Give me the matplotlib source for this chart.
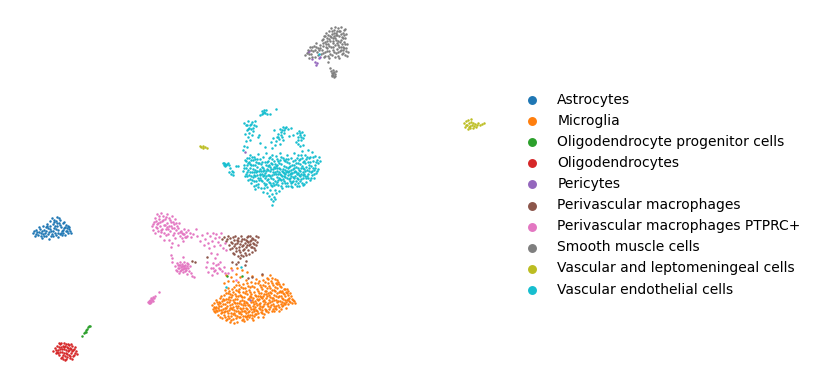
import numpy as np
import matplotlib
matplotlib.use("Agg")
import matplotlib.pyplot as plt

# embedding coordinates (x, y), cluster by cluster
astrocytes = [(33,233),(36,230),(38,235),(35,236),(40,229),(41,233),(43,226),(44,236),(46,231),(47,224),(48,228),(48,234),
	(50,221),(50,226),(51,231),(52,218),(53,224),(53,236),(54,228),(55,233),(56,221),(57,226),(57,217),(58,230),(59,223),
	(60,234),(60,220),(61,227),(62,231),(63,223),(64,228),(65,235),(66,225),(66,231),(67,228),(68,233),(69,229),(70,231),
	(71,233),(42,238),(45,233),(49,239),(52,234),(58,237),(62,235),(37,232),(39,227),(46,227),(55,226),(59,218),(63,233),
	(68,226),(54,222),(49,232),(44,230),(34,231),(41,236),(56,235),
	(36.5,233.5),(39.5,232),(42.5,230.5),(43.5,233.5),(46.5,235.5),(47.5,226),(50.5,229),(51.5,235.5),(53.5,231),(54.5,219.5),
	(56.5,229),(57.5,222.5),(58.5,232.5),(60.5,225),(61.5,233),(63.5,230),(64.5,221.5),(65.5,227),(67.5,231),(69.5,226.5)]

microglia = [(212,305),(213,309),(214,303),(215,312),(216,300),(216,307),(218,315),(218,304),(219,310),(220,298),(221,313),
	(221,306),(222,318),(222,301),(223,309),(224,295),(224,315),(225,304),(226,320),(226,299),(227,311),(227,306),(228,293),
	(228,316),(229,302),(230,322),(230,308),(231,297),(231,313),(232,289),(232,304),(233,319),(233,300),(234,310),(235,294),
	(235,315),(236,306),(236,285),(237,322),(237,299),(238,311),(238,291),(239,303),(239,317),(240,295),(240,308),(241,287),
	(241,314),(242,300),(242,320),(243,305),(243,292),(244,311),(244,297),(245,316),(245,288),(246,302),(246,308),(247,294),
	(247,319),(248,312),(248,299),(249,305),(249,290),(250,315),(250,296),(251,309),(251,302),(252,286),(252,312),(253,298),
	(253,306),(254,292),(254,316),(255,301),(255,283),(256,310),(256,296),(257,305),(257,289),(258,313),(258,300),(259,293),
	(259,308),(260,285),(260,303),(261,312),(261,297),(262,289),(262,307),(263,280),(263,301),(264,294),(264,314),(265,286),
	(265,309),(266,298),(266,291),(267,278),(267,304),(268,312),(268,283),(269,295),(269,300),(270,288),(270,307),(271,281),
	(271,293),(272,311),(272,298),(273,285),(273,304),(274,290),(274,295),(275,279),(275,308),(276,283),(276,300),(277,293),
	(277,288),(278,305),(278,297),(279,284),(279,311),(280,291),(280,301),(281,296),(281,287),(282,306),(283,293),(283,299),
	(284,289),(284,303),(285,296),(286,308),(286,292),(287,300),(288,295),(288,304),(289,298),(290,302),(291,296),(292,303),
	(293,300),(295,303),(214,311),(217,302),(220,317),(223,304),(225,311),(228,299),(229,318),(232,309),(234,302),(236,318),
	(238,296),(240,301),(243,316),(246,313),(248,305),(250,292),(252,318),(254,304),(256,314),(258,296),(260,309),(263,306),
	(265,291),(268,306),(270,297),(272,290),(274,300),(276,306),(279,292),(282,302),(285,300),(236,290),(233,292),(241,296),
	(245,293),(239,289),(248,286),(230,294),(226,293),(225,308),(219,302),(227,302),(234,323),(242,311),(244,321),(249,311),
	(254,311),(259,304),(262,298),(266,311),(270,302),(273,309),(277,302),(281,309),(283,284),(288,291),(238,282),(233,281),
	(243,284),(228,288),(224,283),(240,277),(246,280),(251,282),(256,279),(231,277),(236,274),(228,281),(226,275),(242,270),
	(231,268),(237,268),(252,276),(247,272),(270,275),(262,275),(258,283),(229,310),(237,308),(247,309),(251,297),(255,307),
	(261,293),(267,288),(275,287),(278,282),(264,300),(268,293),(223,299),(221,310),(215,308),(217,311),(231,316),(235,299),
	(240,317),(247,316),(253,320),(258,317),(263,317),(249,317),(243,308),
	(214.5,306.5),(216.5,310),(219.5,306),(220.5,302.5),(222.5,312),(224.5,300),(225.5,316.5),(226.5,307.5),(228.5,312.5),(229.5,297),
	(230.5,304.5),(231.5,319.5),(232.5,294.5),(233.5,307),(234.5,313),(235.5,302.5),(236.5,295.5),(237.5,316),(238.5,305.5),(239.5,292),
	(240.5,312),(241.5,303.5),(242.5,296.5),(243.5,319),(244.5,301),(245.5,310.5),(246.5,290.5),(247.5,303),(248.5,315),(249.5,297.5),
	(250.5,306.5),(251.5,293.5),(252.5,314.5),(253.5,302),(254.5,309),(255.5,295),(256.5,303),(257.5,311),(258.5,291),(259.5,299),
	(260.5,306),(261.5,287),(262.5,313),(263.5,295.5),(264.5,304),(265.5,282),(266.5,310),(267.5,296),(268.5,302.5),(269.5,286),
	(270.5,292),(271.5,305),(272.5,283),(273.5,298),(274.5,311),(275.5,291),(276.5,296),(277.5,284),(278.5,301),(279.5,307),
	(280.5,286),(281.5,292),(282.5,298),(283.5,305),(284.5,294),(285.5,289),(286.5,302),(287.5,293),(289.5,301),(290.5,293),
	(292.5,299),(294,301),(221,296),(225,290),(229,291),(234,287),(239,285),(243,288),(247,283),(250,287),(254,287),(259,281),
	(263,285),(268,279),(272,278),(277,280),(282,291),(287,289),(230,300),(237,303),(244,303),(252,300),(260,296),(266,294),
	(272,301),(279,296),(285,304),(218,308),(224,312),(231,308),(239,313),(246,317),(255,314),(262,310),(269,309),(276,309),
	(233,314),(241,309),(227,319),(236,311),(245,305),(253,309),(257,299),(265,302),(274,306),(281,304),(288,299)]

opc = [(82,336),(84,333),(85,332),(86,330),(87,329),(88,327),(89,326),(90,326),(86,332),(227,276),(242,276)]

oligodendrocytes = [(53,351),(55,348),(56,353),(57,346),(58,350),(59,355),(60,344),(60,349),(61,358),(62,352),(63,346),
	(63,355),(64,343),(64,349),(65,360),(66,353),(67,347),(67,357),(68,344),(68,351),(69,355),(70,348),(70,358),(71,353),
	(72,346),(72,351),(73,356),(74,349),(75,353),(76,351),(77,354),(59,347),(62,357),(65,346),(66,350),(69,345),(71,349),
	(57,352),(61,347),(64,353),(68,348),(73,350),(61,343),(66,344),(75,347),
	(58.5,353),(60.5,351.5),(62.5,349),(63.5,358.5),(65.5,356),(67.5,353.5),(69.5,350),(70.5,355.5),(72.5,358.5),(74.5,355),
	(59.5,342.5),(66.5,359),(71.5,344),(56.5,349.5),(64.5,346.5)]

pericytes = [(308,52),(309,51),(312,59),(315,62),(317,63),(316,65),(319,58),(320,57),(245,152),(250,300)]

peri_macro = [(222,239),(224,237),(226,241),(228,236),(229,245),(230,238),(231,242),(232,248),(233,253),(234,240),(234,246),
	(235,236),(236,251),(237,243),(238,256),(238,238),(239,247),(240,252),(241,241),(241,236),(242,246),(243,250),(243,256),
	(244,239),(245,243),(245,253),(246,247),(247,237),(247,241),(248,250),(249,245),(249,254),(250,236),(250,241),(251,247),
	(252,252),(252,238),(253,243),(254,248),(255,240),(256,245),(256,236),(257,242),(258,237),(232,243),(240,258),(246,261),
	(236,264),(232,262),(238,262),(245,265),(192,261),(195,262),(207,257),(262,274),(252,277),(248,278),
	(227.5,238.5),(230.5,249),(233.5,237),(235.5,243.5),(236.5,247.5),(238.5,241),(240.5,244),(242.5,238.5),(243.5,244.5),(244.5,249),
	(246.5,239.5),(247.5,245),(248.5,236),(250.5,244),(251.5,240),(253.5,238.5),(254.5,244),(255.5,250),(252.5,247),(246.5,255),
	(239.5,250),(234.5,254),(241.5,255),(248.5,242),(237.5,240)]

peri_ptprc = [(152,226),(153,230),(154,222),(155,233),(155,218),(156,227),(157,214),(158,231),(158,223),(159,219),(160,236),
	(160,226),(161,213),(162,229),(162,221),(163,216),(164,233),(164,225),(165,219),(166,229),(167,214),(167,223),(168,234),
	(169,218),(169,226),(170,231),(171,222),(172,216),(172,228),(173,235),(174,224),(175,219),(176,230),(177,226),(178,233),
	(179,223),(180,236),(181,231),(182,238),(183,234),(184,229),(185,237),(186,232),(187,236),(188,230),(190,233),(191,237),
	(193,234),(196,229),(169,240),(172,243),(175,238),(178,245),(183,241),(171,247),(164,240),(197,236),(200,241),(202,235),
	(204,245),(205,239),(207,233),(208,243),(209,248),(210,236),(212,241),(213,233),(214,246),(215,238),(216,234),(218,242),
	(219,237),(220,245),(221,233),(223,248),(225,243),(226,250),(177,263),(178,268),(179,265),(176,270),(180,262),(180,271),
	(181,267),(182,264),(182,269),(183,272),(183,266),(184,262),(184,268),(185,271),(185,265),(186,268),(187,274),(187,263),
	(188,268),(189,271),(190,266),(191,273),(192,276),(194,277),(172,262),(175,266),(171,255),(172,258),(183,257),(211,268),
	(208,272),(213,263),(214,271),(216,265),(217,273),(219,268),(220,262),(222,271),(224,267),(225,273),(212,275),(228,273),
	(206,267),(215,258),(217,254),(211,253),(149,301),(150,300),(151,298),(152,299),(153,297),(151,302),(149,303),(150,303),
	(153,301),(155,296),(159,292),(154,298),(166,235),(157,224),(161,232),(168,229),(174,233),(232,270),(236,280),(207,262),
	(153.5,224),(156.5,221),(157.5,228),(159.5,216),(160.5,222),(161.5,229.5),(163.5,220),(165.5,225),(166.5,217),(167.5,227),
	(170.5,220),(171.5,226),(173.5,222),(174.5,228),(176.5,223),(178.5,228),(180.5,232),(182.5,233),(184.5,234),(186.5,237),
	(178.5,265),(179.5,268),(180.5,265),(181.5,270),(182.5,266),(183.5,269),(184.5,265.5),(185.5,268),(186.5,270),(187.5,266),
	(177.5,271),(179.5,273),(188.5,264),(213.5,268),(215.5,270),(218.5,264),(220.5,269),(150.5,301),(152.5,300),(148.5,302)]

smooth_muscle = [(322,40),(324,36),(325,42),(326,33),(327,38),(328,44),(329,31),(330,36),(330,41),(331,28),(332,34),(333,38),
	(333,43),(334,30),(335,27),(336,35),(336,40),(337,31),(338,28),(338,45),(339,36),(340,42),(340,31),(341,27),(342,37),
	(343,33),(343,47),(344,42),(345,38),(345,29),(346,48),(346,34),(347,44),(348,52),(305,55),(308,50),(310,47),(311,54),
	(313,51),(314,46),(315,57),(316,43),(317,52),(318,48),(320,45),(321,54),(322,50),(323,46),(324,57),(325,52),(327,48),
	(328,56),(329,51),(331,47),(332,55),(333,50),(335,45),(336,53),(337,49),(338,56),(340,51),(341,47),(342,54),(343,50),
	(345,55),(346,51),(347,56),(331,71),(332,73),(333,70),(333,75),(334,72),(335,74),(336,71),(332,76),(334,77),(330,68),
	(328,62),(339,58),(336,33),(329,46),(323,43),(326,47),(344,30),(341,40),(312,57),(309,58),(334,36),(339,47),
	(323.5,38.5),(325.5,36),(327.5,41),(328.5,35),(329.5,39),(331.5,37),(332.5,31),(333.5,41),(334.5,33),(335.5,38),(337.5,35),
	(338.5,41),(339.5,31),(341.5,34),(342.5,44),(343.5,38),(344.5,35),(345.5,44),(337.5,43),(333.5,47),(327.5,51),(330.5,54),
	(334.5,52),(338.5,52),(341.5,50),(343.5,53),(319.5,50),(315.5,50),(311.5,50),(333.5,72.5),(332.5,74.5),(335.5,76),
	(307,53),(309.5,54),(312.5,47),(316.5,47),(318.5,55),(320.5,48),(323.5,53),(325.5,56),(326.5,44),(329.5,58),(335.5,57),(344.5,48)]

vlmc = [(464,123),(465,127),(466,121),(467,125),(468,129),(468,120),(469,123),(470,126),(470,128),(471,122),(472,125),
	(473,128),(473,123),(474,126),(475,124),(476,127),(477,125),(478,123),(480,125),(482,124),(484,123),(466,125),(469,127),
	(471,119),(200,146),(201,147),(203,146),(203,148),(205,147),(207,148)]

endothelial = [(243,171),(244,165),(245,160),(245,176),(246,168),(247,158),(247,172),(248,163),(248,180),(249,175),(250,155),
	(250,168),(251,160),(251,183),(252,172),(253,165),(253,177),(254,157),(254,186),(255,170),(256,162),(256,181),(257,175),
	(257,167),(258,154),(258,184),(259,171),(260,159),(260,178),(261,164),(261,188),(262,174),(263,168),(263,157),(264,183),
	(265,178),(265,162),(266,171),(266,153),(267,187),(268,166),(268,175),(269,158),(269,182),(270,171),(271,163),(271,178),
	(272,186),(272,155),(273,169),(274,174),(274,161),(275,181),(275,190),(276,166),(276,156),(277,177),(277,171),(278,185),
	(278,161),(279,168),(280,174),(280,153),(281,180),(281,164),(282,188),(282,171),(283,158),(284,176),(284,166),(285,183),
	(285,161),(286,172),(287,155),(287,178),(288,168),(288,186),(289,163),(290,174),(290,181),(291,158),(291,170),(292,165),
	(292,187),(293,177),(294,172),(294,153),(295,184),(295,160),(296,167),(297,178),(297,174),(298,163),(298,155),(299,186),
	(299,170),(300,181),(300,159),(301,174),(302,166),(302,151),(303,178),(303,185),(304,161),(305,171),(305,155),(306,182),
	(306,167),(307,176),(308,150),(308,162),(309,171),(310,180),(310,157),(311,166),(312,175),(312,152),(313,161),(314,170),
	(314,178),(315,156),(315,165),(316,173),(317,160),(318,169),(318,163),(319,157),(320,161),(246,174),(249,162),(252,157),
	(254,181),(256,172),(258,163),(259,180),(262,181),(264,170),(266,165),(267,180),(270,157),(272,175),(273,183),(275,164),
	(277,159),(279,178),(281,157),(283,172),(285,177),(287,162),(289,179),(291,176),(293,161),(295,171),(296,181),(298,168),
	(300,164),(301,155),(303,172),(304,184),(306,159),(308,178),(309,165),(311,172),(313,168),(247,165),(251,176),(255,165),
	(257,159),(261,171),(263,176),(265,185),(268,161),(270,183),(274,167),(276,184),(278,174),(280,169),(282,183),(284,160),
	(286,167),(288,175),(290,166),(292,182),(294,178),(296,163),(298,183),(301,168),(303,162),(305,176),(307,170),(309,158),
	(268,170),(272,164),(279,163),(283,179),(286,186),(289,171),(293,169),(297,158),(300,176),(302,183),(304,169),(260,169),
	(255,176),(253,160),(250,179),(262,162),(266,176),(269,175),(271,169),(275,172),(277,182),(281,175),(285,170),(288,159),
	(291,183),(294,165),(299,175),(267,193),(270,190),(272,194),(274,197),(276,193),(271,199),(273,201),(272,205),(269,196),
	(275,199),(279,191),(263,192),(255,189),(258,187),(248,121),(250,125),(252,122),(253,128),(246,125),(247,130),(249,133),
	(251,129),(254,125),(255,121),(244,123),(245,134),(248,137),(250,140),(246,141),(244,146),(247,147),(243,150),(252,135),
	(256,126),(258,137),(260,143),(259,135),(275,145),(276,141),(277,137),(278,134),(279,139),(280,129),(281,135),(282,130),
	(283,127),(284,133),(285,128),(286,127),(288,129),(273,138),(271,142),(274,130),(265,147),(272,148),(280,144),(283,140),
	(289,136),(293,135),(297,133),(298,137),(299,131),(300,135),(301,140),(302,132),(303,138),(298,144),(300,146),(296,142),
	(304,135),(303,145),(291,128),(262,111),(263,113),(264,112),(265,113),(266,110),(260,115),(267,114),(276,109),(270,114),
	(223,163),(224,165),(225,164),(226,165),(227,164),(228,163),(229,165),(230,168),(232,171),(233,172),(231,174),(229,172),
	(233,175),(236,166),(238,166),(319,54),(241,267),(226,287),
	(244.5,168),(246.5,161),(247.5,176),(248.5,170),(249.5,158),(250.5,172),(251.5,165),(252.5,180),(253.5,169),(254.5,175),
	(255.5,159),(256.5,185),(257.5,171),(258.5,178),(259.5,163),(260.5,174),(261.5,180),(262.5,167),(263.5,171),(264.5,188),
	(265.5,173),(266.5,184),(267.5,162),(268.5,179),(269.5,165),(270.5,176),(271.5,185),(272.5,159),(273.5,179),(274.5,185),
	(275.5,168),(276.5,174),(277.5,165),(278.5,180),(279.5,172),(280.5,160),(281.5,186),(282.5,176),(283.5,169),(284.5,181),
	(285.5,174),(286.5,159),(287.5,183),(288.5,172),(289.5,167),(290.5,178),(291.5,186),(292.5,173),(293.5,181),(294.5,168),
	(295.5,176),(296.5,172),(297.5,186),(298.5,179),(299.5,160),(300.5,171),(301.5,179),(302.5,158),(303.5,168),(304.5,174),
	(305.5,163),(306.5,178),(307.5,157),(308.5,174),(309.5,168),(310.5,162),(311.5,178),(312.5,171),(313.5,157),(314.5,174),
	(315.5,168),(316.5,162),(317.5,171),(264,175),(270,167),(277,168),(284,173),(291,173),(298,173),(303,175),(287,171),(280,179),
	(273,172),(267,169),(260,175),(254,172),(250,164),(249.5,128),(251.5,124),(248.5,129),(247.5,125),(253.5,131),(278.5,137),
	(281.5,132),(284.5,130),(300.5,133),(301.5,137),(298.5,140),(282.5,137),(262.5,114),(264.5,110),(225.5,166),(224.5,163)]

cell_types = ['Astrocytes', 'Microglia', 'Oligodendrocyte progenitor cells', 'Oligodendrocytes', 'Pericytes',
	'Perivascular macrophages', 'Perivascular macrophages PTPRC+', 'Smooth muscle cells',
	'Vascular and leptomeningeal cells', 'Vascular endothelial cells']
clusters = [astrocytes, microglia, opc, oligodendrocytes, pericytes, peri_macro, peri_ptprc, smooth_muscle, vlmc, endothelial]
colors = ['#1f77b4', '#ff7f0e', '#2ca02c', '#d62728', '#9467bd', '#8c564b', '#e377c2', '#7f7f7f', '#bcbd22', '#17becf']

fig = plt.figure(figsize=(8.17, 3.89), dpi=100)
ax = fig.add_axes([0, 0, 1, 1])
for name, pts, col in zip(cell_types, clusters, colors):
	pts = np.array(pts)
	ax.scatter(pts[:, 0], pts[:, 1], s=3.2, c=col, linewidths=0, label=name)

ax.set_xlim(0, 817)
ax.set_ylim(389, 0)
ax.axis('off')

leg = ax.legend(loc='upper left', bbox_to_anchor=(0.6345, 0.7615), frameon=False, fontsize=10,
	markerscale=3.6, scatterpoints=1, handletextpad=0.8, labelspacing=0.51, borderpad=0, borderaxespad=0)

plt.savefig("out.png", dpi=100)
